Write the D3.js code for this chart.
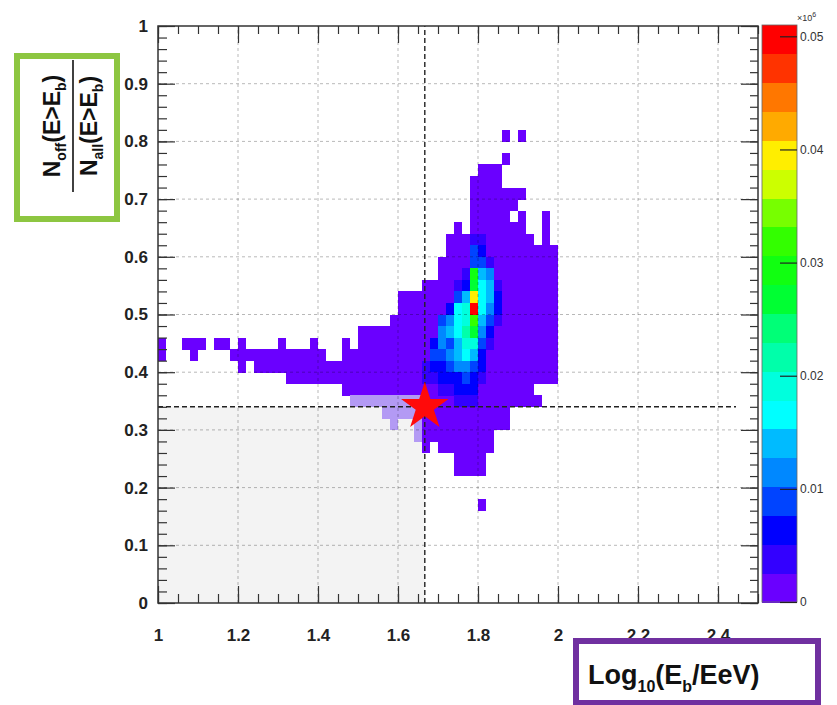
<!DOCTYPE html>
<html><head><meta charset="utf-8">
<script src="https://cdn.jsdelivr.net/npm/d3@7"></script>
<style>
body{margin:0;background:#fff;}
svg{display:block;font-family:"Liberation Sans",Arial,Helvetica,sans-serif;}
</style>
</head><body>
<svg id="chart" width="837" height="705"></svg>
<script>
// ---------------- data ----------------
const xTicks = [1, 1.2, 1.4, 1.6, 1.8, 2, 2.2, 2.4];
const yTicks = [0, 0.1, 0.2, 0.3, 0.4, 0.5, 0.6, 0.7, 0.8, 0.9, 1];
const zTicks = [0, 0.01, 0.02, 0.03, 0.04, 0.05];
const palette = ["#6a00ff","#3300ff","#0000ff","#0044ff","#0088ff","#00bbff","#00ffff","#00ffdd",
                 "#00ffaa","#00ff77","#00ff33","#11ff11","#33ff00","#77ff00","#ccff00","#ffee00",
                 "#ffaa00","#ff7700","#ff3300","#ff0000"];
const zMax = 0.051;
const xMin = 1, binW = 0.02, binH = 0.02;
const baseValue = 0.0012;
// runs of low-count cells: [yBin, xBinStart, xBinEnd]
const baseRuns = [
 [40,43,43],[40,45,45],
 [38,43,43],
 [37,40,42],
 [36,39,42],
 [35,39,45],
 [34,39,44],
 [33,39,43],[33,45,45],[33,48,48],
 [32,37,37],[32,39,45],[32,48,48],
 [31,36,46],[31,48,48],
 [30,36,49],
 [29,35,49],
 [28,35,49],
 [27,33,49],
 [26,30,49],
 [25,30,49],
 [24,29,49],
 [23,25,49],
 [22,0,0],[22,3,5],[22,7,8],[22,10,10],[22,15,15],[22,19,19],[22,23,23],[22,25,49],
 [21,0,0],[21,4,4],[21,9,20],[21,23,49],
 [20,10,10],[20,12,49],
 [19,16,49],
 [18,23,46],
 [17,33,47],
 [16,33,43],
 [15,33,43],
 [14,33,41],
 [13,33,33],[13,35,41],
 [12,37,40],
 [11,37,40],
 [8,40,40]
];
// higher-count cells: [xBin, yBin, value]
const coreCells = [
 [33,20,0.0038],[33,19,0.0038],
 [34,22,0.0064],[34,21,0.0089],[34,20,0.0064],[34,19,0.0038],
 [35,24,0.0089],[35,23,0.0115],[35,22,0.0115],[35,21,0.0089],[35,20,0.0064],[35,19,0.0064],[35,18,0.0038],
 [36,25,0.0064],[36,24,0.0115],[36,23,0.0140],[36,22,0.0089],[36,21,0.0115],[36,20,0.0089],[36,19,0.0064],[36,18,0.0038],
 [37,27,0.0038],[37,26,0.0089],[37,25,0.0166],[37,24,0.0166],[37,23,0.0166],[37,22,0.0140],[37,21,0.0140],[37,20,0.0115],[37,19,0.0064],[37,18,0.0064],[37,17,0.0038],
 [38,28,0.0038],[38,27,0.0064],[38,26,0.0140],[38,25,0.0191],[38,24,0.0191],[38,23,0.0217],[38,22,0.0191],[38,21,0.0166],[38,20,0.0115],[38,19,0.0089],[38,18,0.0064],[38,17,0.0038],
 [39,31,0.0038],[39,30,0.0089],[39,29,0.0089],[39,28,0.0293],[39,27,0.0268],[39,26,0.0395],[39,25,0.0497],[39,24,0.0319],[39,23,0.0268],[39,22,0.0191],[39,21,0.0140],[39,20,0.0089],[39,19,0.0064],[39,18,0.0064],[39,17,0.0038],
 [40,31,0.0038],[40,30,0.0064],[40,29,0.0089],[40,28,0.0140],[40,27,0.0166],[40,26,0.0166],[40,25,0.0166],[40,24,0.0140],[40,23,0.0115],[40,22,0.0089],[40,21,0.0064],[40,20,0.0064],[40,19,0.0038],
 [41,29,0.0038],[41,28,0.0115],[41,27,0.0140],[41,26,0.0140],[41,25,0.0115],[41,24,0.0089],[41,23,0.0064],[41,22,0.0038],
 [42,27,0.0038],[42,26,0.0064],[42,25,0.0064],[42,24,0.0038]
];
// cells inside the excluded (shaded) region: [xBin, yBin]
const maskedCells = [
 [24,17],[25,17],[26,17],[27,17],[28,17],[29,17],[30,17],[31,17],[32,17],
 [28,16],[29,16],[30,16],[31,16],[32,16],
 [29,15],[32,15],[32,14]
];
const markerX = 1.667, markerY = 0.34;

// ---------------- drawing ----------------
const svg = d3.select("#chart");
const x = d3.scaleLinear().domain([1, 2.5]).range([158, 758]);
const y = d3.scaleLinear().domain([0, 1]).range([603, 26]);
const zY = d3.scaleLinear().domain([0, zMax]).range([602, 25]);
const nBands = palette.length;
const bandW = zMax / nBands;
const colorOf = v => palette[Math.min(nBands - 1, Math.floor(v / bandW))];

// shaded excluded region
svg.append("rect")
  .attr("x", x(1)).attr("y", y(markerY))
  .attr("width", x(markerX) - x(1)).attr("height", y(0) - y(markerY))
  .attr("fill", "#f3f3f3");

const cellX = i => xMin + i * binW;
const cellY = j => j * binH;
const baseCells = [];
baseRuns.forEach(([j, i0, i1]) => { for (let i = i0; i <= i1; i++) baseCells.push([i, j, baseValue]); });

const g = svg.append("g").attr("shape-rendering", "crispEdges");
function drawCells(list, fill) {
  g.selectAll(null).data(list).join("rect")
    .attr("x", d => x(cellX(d[0])))
    .attr("y", d => y(cellY(d[1]) + binH))
    .attr("width", d => x(cellX(d[0]) + binW) - x(cellX(d[0])) + 0.4)
    .attr("height", d => y(cellY(d[1])) - y(cellY(d[1]) + binH) + 0.4)
    .attr("fill", fill);
}
drawCells(baseCells, d => colorOf(d[2]));
drawCells(coreCells, d => colorOf(d[2]));
drawCells(maskedCells, "#b39af4");

// grid
const grid = svg.append("g").attr("stroke", "#000").attr("stroke-opacity", 0.28)
  .attr("stroke-dasharray", "3,3").attr("stroke-width", 1);
grid.selectAll(null).data(xTicks.filter(t => t > 1)).join("line")
  .attr("x1", d => x(d)).attr("x2", d => x(d)).attr("y1", y(0)).attr("y2", y(1));
grid.selectAll(null).data(yTicks.filter(t => t > 0 && t < 1)).join("line")
  .attr("y1", d => y(d)).attr("y2", d => y(d)).attr("x1", x(1)).attr("x2", x(2.5));

// marker lines
const mk = svg.append("g").attr("stroke", "#222").attr("stroke-width", 1.4).attr("stroke-dasharray", "5,3");
mk.append("line").attr("x1", x(markerX)).attr("x2", x(markerX)).attr("y1", y(0)).attr("y2", y(1));
mk.append("line").attr("x1", x(1)).attr("x2", x(2.445)).attr("y1", y(markerY)).attr("y2", y(markerY));

// star
svg.append("path")
  .attr("d", d3.symbol(d3.symbolStar).size(700)())
  .attr("transform", `translate(${x(markerX)},${y(markerY)})`)
  .attr("fill", "#ff0a0a");

// axes
const fmt = d => String(+d.toFixed(2));
const xMinor = d3.range(1, 2.5001, 0.05).map(v => +v.toFixed(2));
const yMinor = d3.range(0, 1.0001, 0.02).map(v => +v.toFixed(2));
const axisStyle = sel => { sel.select(".domain").remove(); sel.selectAll("line").attr("stroke", "#333").attr("stroke-width", 1.2); };

svg.append("g").attr("transform", `translate(0,${y(0)})`)
  .call(d3.axisBottom(x).tickValues(xMinor).tickSizeInner(-9).tickFormat("")).call(axisStyle);
svg.append("g").attr("transform", `translate(0,${y(0)})`)
  .call(d3.axisBottom(x).tickValues(xTicks).tickSizeInner(-17).tickPadding(26).tickFormat(fmt)).call(axisStyle)
  .selectAll("text").attr("font-size", 17).attr("font-weight", "bold").attr("fill", "#222");
svg.append("g").attr("transform", `translate(0,${y(1)})`)
  .call(d3.axisTop(x).tickValues(xMinor).tickSizeInner(-8).tickFormat("")).call(axisStyle);
svg.append("g").attr("transform", `translate(0,${y(1)})`)
  .call(d3.axisTop(x).tickValues(xTicks).tickSizeInner(-17).tickFormat("")).call(axisStyle);

svg.append("g").attr("transform", `translate(${x(1)},0)`)
  .call(d3.axisLeft(y).tickValues(yMinor).tickSizeInner(-9).tickFormat("")).call(axisStyle);
svg.append("g").attr("transform", `translate(${x(1)},0)`)
  .call(d3.axisLeft(y).tickValues(yTicks).tickSizeInner(-17).tickPadding(10).tickFormat(fmt)).call(axisStyle)
  .selectAll("text").attr("font-size", 17).attr("font-weight", "bold").attr("fill", "#222");
svg.append("g").attr("transform", `translate(${x(2.5)},0)`)
  .call(d3.axisRight(y).tickValues(yMinor).tickSizeInner(-8).tickFormat("")).call(axisStyle);
svg.append("g").attr("transform", `translate(${x(2.5)},0)`)
  .call(d3.axisRight(y).tickValues(yTicks).tickSizeInner(-17).tickFormat("")).call(axisStyle);

// frame
svg.append("rect").attr("x", x(1)).attr("y", y(1))
  .attr("width", x(2.5) - x(1)).attr("height", y(0) - y(1))
  .attr("fill", "none").attr("stroke", "#333").attr("stroke-width", 1.5);

// colour bar
const cbX = 762, cbW = 35;
svg.append("g").attr("shape-rendering", "crispEdges").selectAll(null)
  .data(d3.range(nBands)).join("rect")
  .attr("x", cbX).attr("width", cbW)
  .attr("y", k => zY((k + 1) * bandW)).attr("height", k => zY(k * bandW) - zY((k + 1) * bandW) + 0.5)
  .attr("fill", k => palette[k]);
svg.append("rect").attr("x", cbX).attr("y", zY(zMax)).attr("width", cbW).attr("height", zY(0) - zY(zMax))
  .attr("fill", "none").attr("stroke", "#666").attr("stroke-width", 0.8);
const cbAxis = svg.append("g").attr("transform", `translate(${cbX + cbW},0)`)
  .call(d3.axisRight(zY).tickValues(zTicks).tickSizeInner(-17).tickPadding(3).tickFormat(fmt));
cbAxis.select(".domain").remove();
cbAxis.selectAll("line").attr("stroke", "#222").attr("stroke-width", 1.2);
cbAxis.selectAll("text").attr("font-size", 12).attr("fill", "#333");
svg.append("text").attr("x", 797).attr("y", 21).attr("font-size", 9).attr("fill", "#333")
  .text("×10").append("tspan").attr("dy", -4).attr("font-size", 7).text("6");

// y title box
svg.append("rect").attr("x", 17).attr("y", 56).attr("width", 100).attr("height", 163)
  .attr("fill", "#fff").attr("stroke", "#8dc641").attr("stroke-width", 6);
function fracText(xPos, main, sub) {
  const t = svg.append("text").attr("transform", `translate(${xPos},126) rotate(-90)`)
    .attr("text-anchor", "middle").attr("font-size", 23).attr("font-weight", "bold").attr("fill", "#111");
  t.append("tspan").text("N");
  t.append("tspan").attr("font-size", 14).attr("dy", 6).text(sub);
  t.append("tspan").attr("dy", -6).text("(E>E");
  t.append("tspan").attr("font-size", 14).attr("dy", 6).text("b");
  t.append("tspan").attr("dy", -6).text(")");
}
fracText(60, "N", "off");
svg.append("line").attr("x1", 73).attr("x2", 73).attr("y1", 60).attr("y2", 192)
  .attr("stroke", "#111").attr("stroke-width", 1.6);
fracText(97, "N", "all");

// x title box
svg.append("rect").attr("x", 576).attr("y", 641).attr("width", 242).attr("height", 62)
  .attr("fill", "#fff").attr("stroke", "#7030a0").attr("stroke-width", 6);
const xt = svg.append("text").attr("x", 588).attr("y", 684).attr("font-size", 27)
  .attr("font-weight", "bold").attr("fill", "#111");
xt.append("tspan").text("Log");
xt.append("tspan").attr("font-size", 16).attr("dy", 8).text("10");
xt.append("tspan").attr("dy", -8).text("(E");
xt.append("tspan").attr("font-size", 16).attr("dy", 8).text("b");
xt.append("tspan").attr("dy", -8).text("/EeV)");
</script>
</body></html>
